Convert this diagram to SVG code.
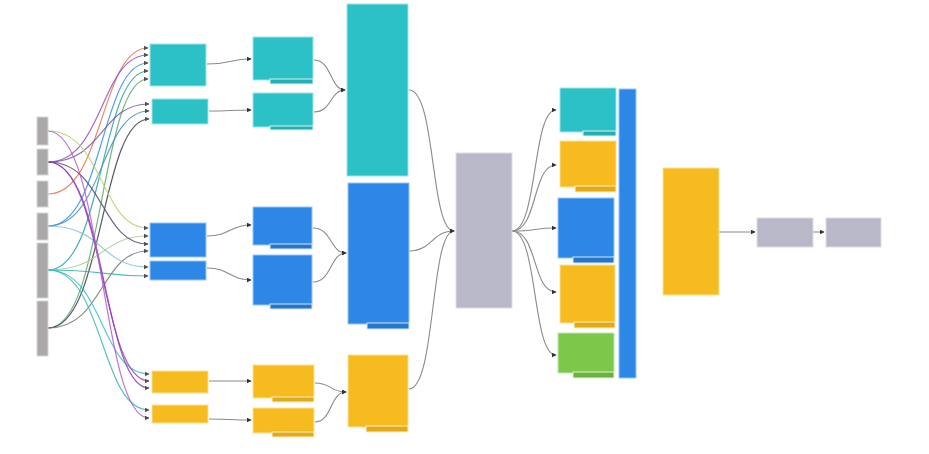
<svg xmlns="http://www.w3.org/2000/svg" width="929" height="454" viewBox="0 0 929 454">
<style>
.bar{fill:#aaa8a8;stroke:#d6d6d6;stroke-width:1}
.teal{fill:#2cc1c6;stroke:#9fe3e6;stroke-width:1}
.blue{fill:#2d87e6;stroke:#9cc6f3;stroke-width:1}
.yel{fill:#f6bb1f;stroke:#fbe19a;stroke-width:1}
.grn{fill:#7bc84b;stroke:#c4e8ad;stroke-width:1}
.gry{fill:#b9b8c8;stroke:#dedde6;stroke-width:1}
.tealS{fill:#27aeb3;stroke:#d9f4f5;stroke-width:1}
.blueS{fill:#2677cc;stroke:#d6e7fa;stroke-width:1}
.yelS{fill:#e3aa16;stroke:#fdf0cc;stroke-width:1}
.grnS{fill:#6bb23e;stroke:#e2f3d6;stroke-width:1}
.flow{fill:none;stroke:#8a8a8a;stroke-width:1.1;marker-end:url(#ah)}
.in{fill:none;stroke-width:1.2;opacity:.85;marker-end:url(#ah)}
</style>
<defs>
<marker id="ah" viewBox="0 0 8 8" refX="7" refY="4" markerWidth="5" markerHeight="5" orient="auto" markerUnits="userSpaceOnUse">
<path d="M0,0 L8,4 L0,8 z" fill="#333"/>
</marker>
</defs>
<rect width="929" height="454" fill="#ffffff"/>

<g id="connectors">
<path class="in" stroke="#e0785c" d="M48,194 C104,194 100,48 148,48"/>
<path class="in" stroke="#9b4fc0" d="M48,162 C104,162 100,55 148,55"/>
<path class="in" stroke="#3a8ee0" d="M48,226 C104,226 100,63 148,63"/>
<path class="in" stroke="#2aa3a0" d="M48,270 C104,270 100,71 148,71"/>
<path class="in" stroke="#5aa86a" d="M48,328 C104,328 100,79 148,79"/>
<path class="in" stroke="#6f5aa8" d="M48,162 C104,162 100,104 149,104"/>
<path class="in" stroke="#4a90c8" d="M48,226 C104,226 100,111 149,111"/>
<path class="in" stroke="#333a4a" d="M48,328 C104,328 100,119 149,119"/>
<path class="in" stroke="#b8d46a" d="M48,131 C104,131 100,228 148,228"/>
<path class="in" stroke="#a9d28c" d="M48,270 C104,270 100,236 148,236"/>
<path class="in" stroke="#5b4a7a" d="M48,162 C104,162 100,244 148,244"/>
<path class="in" stroke="#777777" d="M48,328 C104,328 100,251 148,251"/>
<path class="in" stroke="#88c4e0" d="M48,226 C104,226 100,267 148,267"/>
<path class="in" stroke="#2bb3a8" d="M48,270 C104,270 100,276 148,276"/>
<path class="in" stroke="#38c0c8" d="M48,270 C104,270 100,374 149,374"/>
<path class="in" stroke="#a23ec0" d="M48,162 C104,162 100,381 149,381"/>
<path class="in" stroke="#8a3fb0" d="M48,162 C106,162 102,388 149,388"/>
<path class="in" stroke="#3ab8b0" d="M48,270 C104,270 100,410 149,410"/>
<path class="in" stroke="#b05cc8" d="M48,131 C104,131 100,418 149,418"/>
<path class="flow" d="M207,64 C230,64 230,59 251,59"/>
<path class="flow" d="M209,111 C230,111 230,110 251,110"/>
<path class="flow" d="M207,236 C230,236 230,225 251,225"/>
<path class="flow" d="M207,268 C230,268 230,280 251,280"/>
<path class="flow" d="M209,381 C230,381 230,381 251,381"/>
<path class="flow" d="M209,419 C230,419 230,420 251,420"/>
<path class="flow" d="M314,60 C332,60 330,90 345,90"/>
<path class="flow" d="M314,112 C332,112 330,90 345,90"/>
<path class="flow" d="M313,228 C332,228 330,253 346,253"/>
<path class="flow" d="M313,282 C332,282 330,253 346,253"/>
<path class="flow" d="M315,383 C332,383 330,392 346,392"/>
<path class="flow" d="M315,422 C332,422 330,392 346,392"/>
<path class="flow" d="M409,90 C436,90 430,231 454,231"/>
<path class="flow" d="M409,251 C432,251 432,231 454,231"/>
<path class="flow" d="M409,389 C436,389 430,231 454,231"/>
<path class="flow" d="M512,231 C538,231 532,110 556,110"/>
<path class="flow" d="M512,231 C538,231 532,165 556,165"/>
<path class="flow" d="M512,231 C538,231 532,228 556,228"/>
<path class="flow" d="M512,231 C538,231 532,292 556,292"/>
<path class="flow" d="M512,231 C538,231 532,355 556,355"/>
<path class="flow" d="M719,232 L755,232"/>
<path class="flow" d="M813,232 L824,232"/>
</g>

<g id="bar1"><rect class="bar" x="37" y="117" width="11" height="28"/></g>
<g id="bar2"><rect class="bar" x="37" y="149" width="11" height="26"/></g>
<g id="bar3"><rect class="bar" x="37" y="181" width="11" height="26"/></g>
<g id="bar4"><rect class="bar" x="37" y="213" width="11" height="27"/></g>
<g id="bar5"><rect class="bar" x="37" y="243" width="11" height="55"/></g>
<g id="bar6"><rect class="bar" x="37" y="301" width="11" height="55"/></g>

<g id="a1"><rect class="teal" x="150" y="44" width="56" height="42"/></g>
<g id="a2"><rect class="teal" x="152" y="99" width="56" height="25"/></g>
<g id="b1"><rect class="blue" x="150" y="223" width="56" height="34"/></g>
<g id="b2"><rect class="blue" x="150" y="261" width="56" height="19"/></g>
<g id="c1"><rect class="yel" x="152" y="371" width="56" height="22"/></g>
<g id="c2"><rect class="yel" x="152" y="405" width="56" height="18"/></g>

<g id="d1"><rect class="teal" x="253" y="37" width="60" height="43"/><rect class="tealS" x="270" y="79" width="43" height="5"/></g>
<g id="d2"><rect class="teal" x="253" y="93" width="60" height="34"/><rect class="tealS" x="270" y="126" width="43" height="4"/></g>
<g id="e1"><rect class="blue" x="253" y="207" width="59" height="38"/><rect class="blueS" x="270" y="244" width="42" height="5"/></g>
<g id="e2"><rect class="blue" x="253" y="255" width="59" height="50"/><rect class="blueS" x="270" y="304" width="42" height="5"/></g>
<g id="f1"><rect class="yel" x="253" y="365" width="61" height="33"/><rect class="yelS" x="272" y="397" width="42" height="5"/></g>
<g id="f2"><rect class="yel" x="253" y="408" width="61" height="25"/><rect class="yelS" x="272" y="432" width="42" height="5"/></g>

<g id="g"><rect class="teal" x="347" y="4" width="61" height="172"/></g>
<g id="h"><rect class="blue" x="348" y="183" width="61" height="141"/><rect class="blueS" x="367" y="323" width="42" height="6"/></g>
<g id="i"><rect class="yel" x="348" y="355" width="60" height="72"/><rect class="yelS" x="366" y="426" width="42" height="6"/></g>

<g id="j"><rect class="gry" x="456" y="153" width="56" height="155"/></g>

<g id="k1"><rect class="teal" x="560" y="88" width="56" height="44"/><rect class="tealS" x="583" y="131" width="33" height="5"/></g>
<g id="k2"><rect class="yel" x="560" y="141" width="56" height="46"/><rect class="yelS" x="575" y="186" width="41" height="6"/></g>
<g id="k3"><rect class="blue" x="558" y="198" width="56" height="60"/><rect class="blueS" x="573" y="257" width="41" height="6"/></g>
<g id="k4"><rect class="yel" x="560" y="265" width="55" height="58"/><rect class="yelS" x="574" y="322" width="41" height="6"/></g>
<g id="k5"><rect class="grn" x="558" y="333" width="56" height="40"/><rect class="grnS" x="573" y="372" width="41" height="6"/></g>

<g id="l"><rect class="blue" x="619" y="89" width="17" height="289"/></g>
<g id="m"><rect class="yel" x="663" y="168" width="56" height="127"/></g>
<g id="n"><rect class="gry" x="757" y="218" width="56" height="29"/></g>
<g id="o"><rect class="gry" x="826" y="218" width="55" height="29"/></g>
</svg>
